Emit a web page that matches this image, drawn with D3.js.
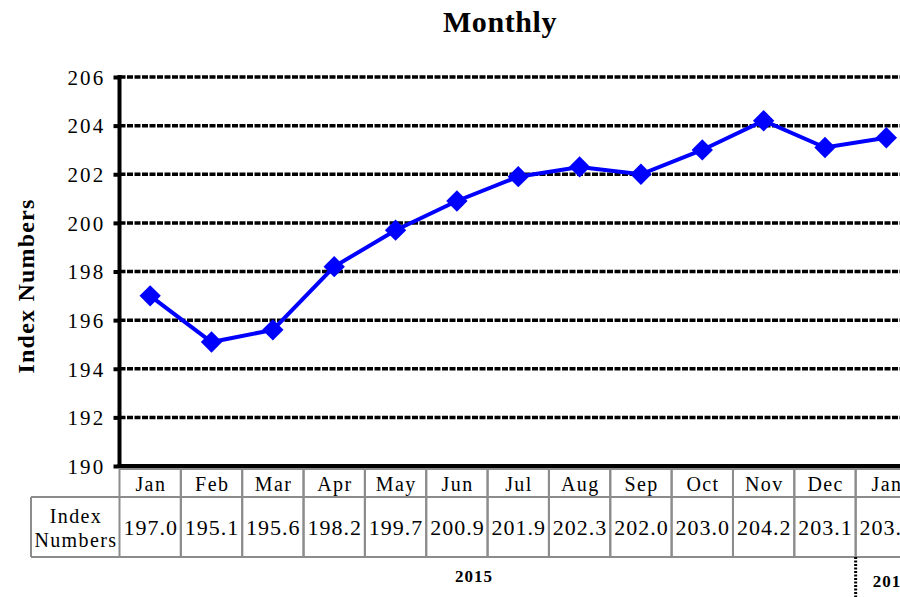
<!DOCTYPE html>
<html>
<head>
<meta charset="utf-8">
<script src="https://cdn.jsdelivr.net/npm/d3@7"></script>
<style>
  body { margin: 0; background: #fff; overflow: hidden; }
  svg { display: block; font-family: "Liberation Serif", "Times New Roman", serif; }
</style>
</head>
<body>
<div id="chart"></div>
<script>
// Data
var months = ["Jan", "Feb", "Mar", "Apr", "May", "Jun", "Jul", "Aug", "Sep", "Oct", "Nov", "Dec", "Jan"];
var indexValues = [197.0, 195.1, 195.6, 198.2, 199.7, 200.9, 201.9, 202.3, 202.0, 203.0, 204.2, 203.1, 203.5];
var yTicks = [190, 192, 194, 196, 198, 200, 202, 204, 206];
var years = [{label: "2015", from: 0, to: 11}, {label: "2016", from: 12, to: 12}];

(function () {

  var width = 900, height = 597;
  var plotLeft = 119.5, plotRight = 917, plotTop = 77, plotBottom = 466;

  var svg = d3.select("#chart").append("svg")
      .attr("width", width)
      .attr("height", height);

  // Scales
  var x = d3.scaleBand()
    .domain(d3.range(months.length))
    .range([plotLeft, plotRight])
    .padding(0);

  var y = d3.scaleLinear()
    .domain([190, 206])
    .range([plotBottom, plotTop]);

  // Title
  svg.append("text")
    .attr("x", 500).attr("y", 32)
    .attr("text-anchor", "middle")
    .style("font-size", "30px").style("font-weight", "bold")
    .style("letter-spacing", "0.6px")
    .text("Monthly");

  // Y axis title
  svg.append("text")
    .attr("transform", "translate(34,286) rotate(-90)")
    .attr("text-anchor", "middle")
    .style("font-size", "24px").style("font-weight", "bold")
    .style("letter-spacing", "1.2px")
    .text("Index Numbers");

  // Grid lines
  svg.selectAll(".grid")
    .data(yTicks.filter(function(d){ return d > 190; }))
    .enter().append("line")
    .attr("class", "grid")
    .attr("x1", plotLeft).attr("x2", width)
    .attr("y1", function(d){ return y(d); })
    .attr("y2", function(d){ return y(d); })
    .attr("stroke", "#000")
    .attr("stroke-width", 3.5)
    .attr("stroke-dasharray", "6,1.5");

  // Y axis
  var yAxis = svg.append("g")
    .attr("transform", "translate(" + plotLeft + ",0)")
    .call(d3.axisLeft(y).tickValues(yTicks).tickSize(6).tickFormat(d3.format("d")));
  yAxis.select(".domain").attr("stroke-width", 4).attr("d", "M0," + (plotTop - 2) + "V" + plotBottom);
  yAxis.selectAll(".tick line").attr("stroke-width", 4);
  yAxis.selectAll(".tick text")
    .attr("x", -14).attr("dy", "0.35em")
    .style("font-size", "21px").style("letter-spacing", "2.2px")
    .style("font-family", "Liberation Serif, serif").attr("fill", "#000");

  // Bottom axis line
  svg.append("line")
    .attr("x1", plotLeft - 2).attr("x2", width)
    .attr("y1", plotBottom).attr("y2", plotBottom)
    .attr("stroke", "#000").attr("stroke-width", 4);

  // Data table under the chart
  var rowTop = 469, row1 = 497, row2 = 557, labelLeft = 31;
  var tableColor = "#8c8c8c";

  var table = svg.append("g").attr("class", "table");

  table.selectAll(".mcell")
    .data(months)
    .enter().append("rect")
    .attr("x", function(d, i){ return x(i); })
    .attr("y", rowTop)
    .attr("width", x.bandwidth())
    .attr("height", row2 - rowTop)
    .attr("fill", "none")
    .attr("stroke", tableColor)
    .attr("stroke-width", 2);

  [row1, row2].forEach(function(ry){
    table.append("line")
      .attr("x1", labelLeft).attr("x2", width)
      .attr("y1", ry).attr("y2", ry)
      .attr("stroke", tableColor).attr("stroke-width", 2);
  });
  table.append("line")
    .attr("x1", labelLeft).attr("x2", labelLeft)
    .attr("y1", row1).attr("y2", row2)
    .attr("stroke", tableColor).attr("stroke-width", 2);

  table.selectAll(".mlabel")
    .data(months)
    .enter().append("text")
    .attr("x", function(d, i){ return x(i) + x.bandwidth() / 2 + 0.7; })
    .attr("y", 491)
    .attr("text-anchor", "middle")
    .style("font-size", "20px").style("letter-spacing", "1.4px")
    .text(function(d){ return d; });

  table.selectAll(".vlabel")
    .data(indexValues)
    .enter().append("text")
    .attr("x", function(d, i){ return x(i) + x.bandwidth() / 2 + 0.5; })
    .attr("y", 535)
    .attr("text-anchor", "middle")
    .style("font-size", "22px").style("letter-spacing", "1px")
    .text(function(d){ return d.toFixed(1); });

  var rowLabel = table.append("text")
    .attr("text-anchor", "middle")
    .style("font-size", "20px").style("letter-spacing", "1.4px");
  rowLabel.append("tspan").attr("x", (labelLeft + plotLeft) / 2 + 0.7).attr("y", 523).text("Index");
  rowLabel.append("tspan").attr("x", (labelLeft + plotLeft) / 2 + 0.7).attr("y", 547).text("Numbers");

  // Year labels and separator
  svg.selectAll(".year")
    .data(years)
    .enter().append("text")
    .attr("class", "year")
    .attr("x", function(d){
      if (d.from === d.to) return x(d.from) + 17;
      return (labelLeft + plotRight) / 2;
    })
    .attr("y", function(d, i){ return i === 0 ? 582 : 587; })
    .attr("text-anchor", function(d){ return d.from === d.to ? "start" : "middle"; })
    .style("font-size", "17px").style("font-weight", "bold")
    .style("letter-spacing", "1px")
    .text(function(d){ return d.label; });

  svg.append("line")
    .attr("x1", x(12)).attr("x2", x(12))
    .attr("y1", row2).attr("y2", height)
    .attr("stroke", "#000").attr("stroke-width", 3)
    .attr("stroke-dasharray", "2,1.5");

  // Line
  var line = d3.line()
    .x(function(d, i){ return x(i) + x.bandwidth() / 2; })
    .y(function(d){ return y(d); });

  svg.append("path")
    .datum(indexValues)
    .attr("d", line)
    .attr("fill", "none")
    .attr("stroke", "#0000ff")
    .attr("stroke-width", 4);

  svg.selectAll(".marker")
    .data(indexValues)
    .enter().append("path")
    .attr("class", "marker")
    .attr("d", d3.symbol().type(d3.symbolDiamond2).size(290))
    .attr("transform", function(d, i){
      return "translate(" + (x(i) + x.bandwidth() / 2) + "," + y(d) + ")";
    })
    .attr("fill", "#0000ff");

})()
</script>
</body>
</html>
